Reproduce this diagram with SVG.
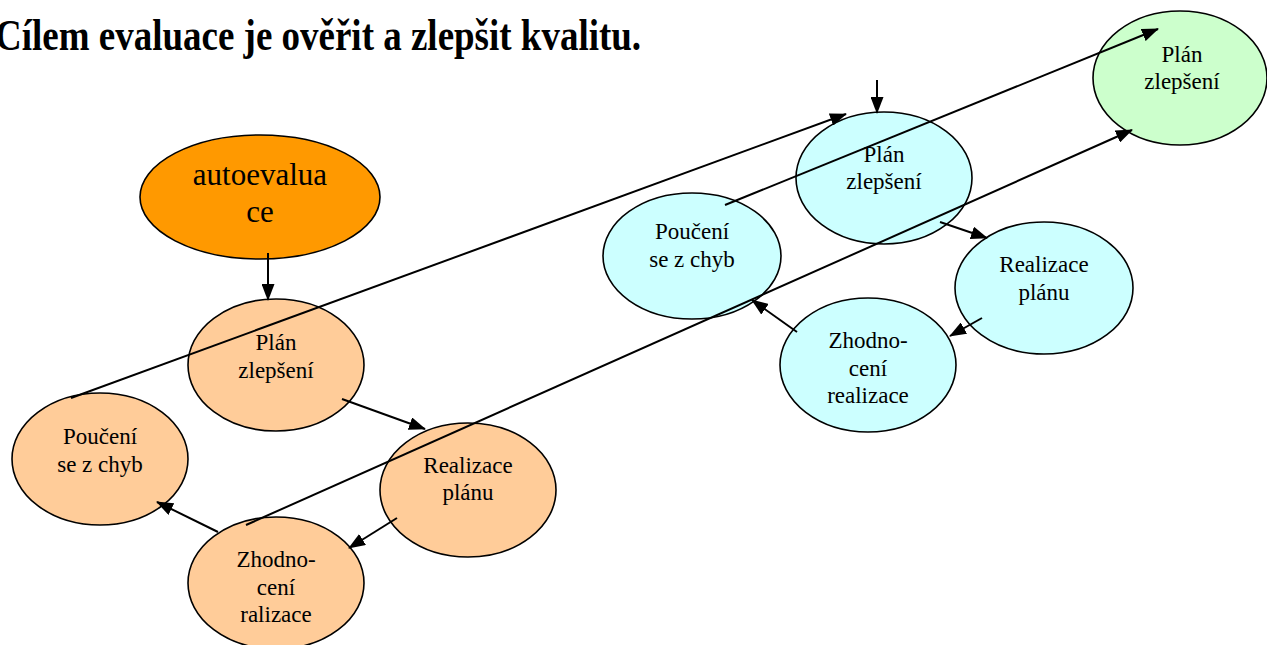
<svg xmlns="http://www.w3.org/2000/svg" width="1267" height="645" viewBox="0 0 1267 645">
<defs>
<marker id="arr" markerUnits="userSpaceOnUse" markerWidth="17" markerHeight="13" viewBox="0 0 17 13" refX="16" refY="6.5" orient="auto">
<path d="M0,0 L17,6.5 L0,13 z" fill="#000"/>
</marker>
<style>
.n{stroke:#000;stroke-width:1.6}
.or{fill:#FF9900}
.pe{fill:#FFCC99}
.cy{fill:#CCFFFF}
.gr{fill:#CCFFCC}
.t{font-family:"Liberation Serif","Times New Roman",serif;font-size:23px;fill:#000;text-anchor:middle}
.c line{stroke:#000;stroke-width:2;marker-end:url(#arr)}
</style>
</defs>
<rect width="1267" height="645" fill="#fff"/>
<text transform="translate(-5,50) scale(1,1.18)" x="0" y="0" font-family="Liberation Serif, Times New Roman, serif" font-size="37" font-weight="bold">Cílem evaluace je ověřit a zlepšit kvalitu.</text>

<g id="autoevaluace"><ellipse class="n or" cx="260" cy="197" rx="120" ry="62"/><text class="t" style="font-size:31px" x="260" y="185">autoevalua</text><text class="t" style="font-size:31px" x="260" y="222">ce</text></g>
<g id="plan1"><ellipse class="n pe" cx="276" cy="365" rx="88" ry="66"/><text class="t" x="276" y="350">Plán</text><text class="t" x="276" y="378">zlepšení</text></g>
<g id="pouceni1"><ellipse class="n pe" cx="100" cy="459" rx="88" ry="66"/><text class="t" x="100" y="444">Poučení</text><text class="t" x="100" y="472">se z chyb</text></g>
<g id="realizace1"><ellipse class="n pe" cx="468" cy="490" rx="88" ry="67"/><text class="t" x="468" y="473">Realizace</text><text class="t" x="468" y="500">plánu</text></g>
<g id="zhodnoceni1"><ellipse class="n pe" cx="276" cy="583" rx="88" ry="66"/><text class="t" x="276" y="567">Zhodno-</text><text class="t" x="276" y="595">cení</text><text class="t" x="276" y="622">ralizace</text></g>

<g id="plan2"><ellipse class="n cy" cx="884" cy="178" rx="88" ry="66"/><text class="t" x="884" y="162">Plán</text><text class="t" x="884" y="189">zlepšení</text></g>
<g id="pouceni2"><ellipse class="n cy" cx="692" cy="256" rx="89" ry="63"/><text class="t" x="692" y="239">Poučení</text><text class="t" x="692" y="267">se z chyb</text></g>
<g id="realizace2"><ellipse class="n cy" cx="1044" cy="288" rx="89" ry="66"/><text class="t" x="1044" y="272">Realizace</text><text class="t" x="1044" y="300">plánu</text></g>
<g id="zhodnoceni2"><ellipse class="n cy" cx="868" cy="365" rx="88" ry="67"/><text class="t" x="868" y="348">Zhodno-</text><text class="t" x="868" y="376">cení</text><text class="t" x="868" y="403">realizace</text></g>
<g id="plan3"><ellipse class="n gr" cx="1180" cy="78" rx="87" ry="67"/><text class="t" x="1182" y="62">Plán</text><text class="t" x="1182" y="89">zlepšení</text></g>

<g class="c" id="connectors">
<line x1="268" y1="253" x2="268" y2="300"/>
<line x1="877" y1="80" x2="877" y2="113"/>
<line x1="342" y1="399" x2="425" y2="429"/>
<line x1="397" y1="518" x2="349" y2="548"/>
<line x1="218" y1="532" x2="157" y2="502"/>
<line x1="71" y1="398" x2="846" y2="114"/>
<line x1="246" y1="525" x2="1132" y2="130"/>
<line x1="725" y1="205" x2="1158" y2="29"/>
<line x1="940" y1="222" x2="987" y2="238"/>
<line x1="982" y1="318" x2="950" y2="336"/>
<line x1="797" y1="332" x2="752" y2="300"/>
</g>
</svg>
